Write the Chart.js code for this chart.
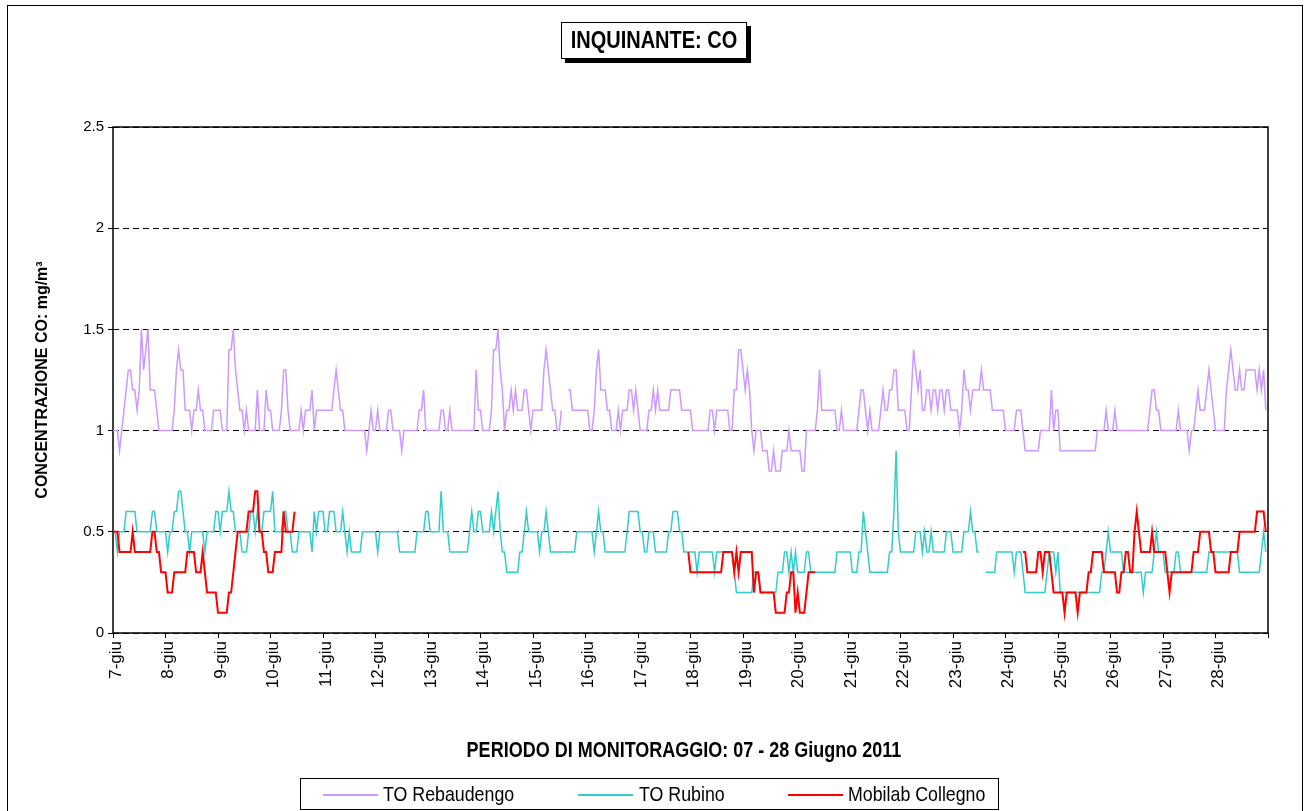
<!DOCTYPE html>
<html>
<head>
<meta charset="utf-8">
<script src="https://cdn.jsdelivr.net/npm/chart.js@4.4.1/dist/chart.umd.min.js"></script>
<style>
  body { margin: 0; background: #fff; font-family: Arial, "Liberation Sans", sans-serif; color: #000; }
  #wrap { position: relative; width: 1308px; height: 811px; overflow: hidden; background: #fff; }
  #frame { position: absolute; left: 7px; top: 5px; width: 1294px; height: 840px; border: 1px solid #000; }
  canvas { position: absolute; left: 0; top: 0; }
  #title { position: absolute; left: 561px; top: 22px; width: 184px; height: 35px; border: 1px solid #000;
           box-shadow: 4px 4px 0 #000; background: #fff; text-align: center; }
  #title span { display: inline-block; font-weight: bold; font-size: 20px; line-height: 35px; transform: scaleY(1.2); }
  #ytitle { position: absolute; left: 42px; top: 380px; transform: translate(-50%, -50%) rotate(-90deg);
            font-weight: bold; font-size: 16px; white-space: nowrap; }
  #xtitle { position: absolute; left: 684px; top: 740px; transform: translateX(-50%) scaleY(1.2);
            font-weight: bold; font-size: 18px; white-space: nowrap; }
  #legend { position: absolute; left: 300px; top: 778px; width: 697px; height: 30px; border: 1px solid #000; background: #fff; }
  .sw { position: absolute; top: 794px; height: 2px; width: 55px; }
  .lt { position: absolute; top: 784px; font-size: 17.8px; white-space: nowrap; transform: scaleY(1.12); }
</style>
</head>
<body>
<div id="wrap">
  <canvas id="chart" width="1308" height="811"></canvas>
  <div id="frame"></div>
  <div id="title"><span>INQUINANTE: CO</span></div>
  <div id="ytitle">CONCENTRAZIONE CO: mg/m³</div>
  <div id="xtitle">PERIODO DI MONITORAGGIO: 07 - 28 Giugno 2011</div>
  <div id="legend"></div>
  <div class="sw" style="left:323px;background:#CC99FF"></div>
  <div class="lt" style="left:383px">TO Rebaudengo</div>
  <div class="sw" style="left:578px;background:#33CCCC"></div>
  <div class="lt" style="left:639px">TO Rubino</div>
  <div class="sw" style="left:788px;background:#FF0000"></div>
  <div class="lt" style="left:848px">Mobilab Collegno</div>
</div>
<script>
// one label per day, the series are hourly (24 values per row)
const days = ['7-giu', '8-giu', '9-giu', '10-giu', '11-giu', '12-giu', '13-giu', '14-giu', '15-giu', '16-giu', '17-giu',
              '18-giu', '19-giu', '20-giu', '21-giu', '22-giu', '23-giu', '24-giu', '25-giu', '26-giu', '27-giu', '28-giu'];

const _ = null; // missing hour

const rebaudengo = [
  1.0,1.0,1.0,0.9,1.0,1.1,1.2,1.3,1.3,1.2,1.2,1.1,1.2,1.5,1.3,1.4,1.5,1.2,1.2,1.2,1.1,1.0,1.0,1.0,
  1.0,1.0,1.0,1.0,1.1,1.3,1.4,1.3,1.3,1.1,1.1,1.1,1.0,1.1,1.1,1.2,1.1,1.1,1.0,1.0,1.0,1.0,1.1,1.1,
  1.1,1.1,1.0,1.0,1.0,1.4,1.4,1.5,1.3,1.2,1.1,1.1,1.0,1.1,1.0,1.0,1.0,1.0,1.2,1.0,1.0,1.0,1.2,1.1,
  1.1,1.0,1.0,1.0,1.0,1.1,1.3,1.3,1.1,1.0,1.0,1.0,1.0,1.0,1.1,1.0,1.1,1.1,1.1,1.2,1.0,1.1,1.1,1.1,
  1.1,1.1,1.1,1.1,1.1,1.2,1.3,1.2,1.1,1.1,1.0,1.0,1.0,1.0,1.0,1.0,1.0,1.0,1.0,1.0,0.9,1.0,1.1,1.0,
  1.0,1.1,1.0,1.0,1.0,1.0,1.1,1.1,1.0,1.0,1.0,1.0,0.9,1.0,1.0,1.0,1.0,1.0,1.0,1.0,1.1,1.1,1.2,1.0,
  1.0,1.0,1.0,1.0,1.0,1.0,1.1,1.1,1.0,1.0,1.1,1.0,1.0,1.0,1.0,1.0,1.0,1.0,1.0,1.0,1.0,1.0,1.3,1.1,
  1.1,1.0,1.0,1.0,1.0,1.1,1.4,1.4,1.5,1.3,1.2,1.0,1.1,1.1,1.2,1.1,1.2,1.1,1.1,1.1,1.2,1.2,1.1,1.0,
  1.1,1.1,1.1,1.1,1.1,1.3,1.4,1.3,1.2,1.1,1.1,1.0,1.0,1.1,_,_,1.2,1.2,1.1,1.1,1.1,1.1,1.1,1.1,
  1.1,1.1,1.0,1.0,1.1,1.3,1.4,1.2,1.2,1.2,1.1,1.1,1.0,1.0,1.0,1.1,1.0,1.1,1.1,1.1,1.2,1.2,1.1,1.2,
  1.1,1.0,1.0,1.0,1.0,1.1,1.1,1.2,1.1,1.2,1.1,1.1,1.1,1.1,1.1,1.2,1.2,1.2,1.2,1.2,1.1,1.1,1.1,1.1,
  1.1,1.0,1.0,1.0,1.0,1.0,1.0,1.0,1.0,1.1,1.1,1.0,1.1,1.1,1.1,1.1,1.1,1.1,1.0,1.0,1.2,1.2,1.4,1.4,
  1.3,1.2,1.3,1.2,1.0,0.9,1.0,1.0,1.0,0.9,0.9,0.9,0.8,0.8,0.9,0.8,0.8,0.8,0.9,0.9,0.9,1.0,0.9,0.9,
  0.9,0.9,0.9,0.8,0.8,1.0,1.0,1.0,1.0,1.0,1.1,1.3,1.1,1.1,1.1,1.1,1.1,1.1,1.1,1.0,1.0,1.1,1.0,1.0,
  1.0,1.0,1.0,1.0,1.0,1.1,1.2,1.2,1.1,1.0,1.1,1.0,1.0,1.0,1.0,1.1,1.2,1.1,1.1,1.2,1.2,1.3,1.3,1.1,
  1.1,1.1,1.1,1.0,1.0,1.2,1.4,1.3,1.2,1.3,1.1,1.1,1.2,1.2,1.1,1.2,1.2,1.1,1.2,1.2,1.1,1.2,1.2,1.1,
  1.1,1.1,1.1,1.0,1.1,1.3,1.2,1.2,1.1,1.2,1.2,1.2,1.2,1.3,1.2,1.2,1.2,1.2,1.1,1.1,1.1,1.1,1.1,1.1,
  1.0,1.0,1.0,1.0,1.0,1.1,1.1,1.1,1.0,0.9,0.9,0.9,0.9,0.9,0.9,0.9,1.0,1.0,1.0,1.0,1.0,1.2,1.0,1.1,
  1.1,0.9,0.9,0.9,0.9,0.9,0.9,0.9,0.9,0.9,0.9,0.9,0.9,0.9,0.9,0.9,0.9,0.9,1.0,1.0,1.0,1.0,1.1,1.0,
  1.0,1.0,1.1,1.0,1.0,1.0,1.0,1.0,1.0,1.0,1.0,1.0,1.0,1.0,1.0,1.0,1.0,1.0,1.1,1.2,1.2,1.1,1.1,1.0,
  1.0,1.0,1.0,1.0,1.0,1.0,1.0,1.1,1.0,1.0,1.0,1.0,0.9,1.0,1.0,1.1,1.2,1.1,1.1,1.1,1.2,1.3,1.2,1.1,
  1.0,1.0,1.0,1.0,1.0,1.2,1.3,1.4,1.3,1.2,1.2,1.3,1.2,1.2,1.3,1.3,1.3,1.3,1.3,1.2,1.3,1.2,1.3,1.1
];

const rubino = [
  0.5,0.5,0.4,0.5,0.5,0.5,0.6,0.6,0.6,0.6,0.6,0.5,0.5,0.5,0.5,0.5,0.5,0.5,0.6,0.6,0.5,0.5,0.5,0.5,
  0.5,0.4,0.5,0.5,0.6,0.6,0.7,0.7,0.6,0.5,0.5,0.4,0.5,0.5,0.5,0.5,0.5,0.5,0.4,0.5,0.5,0.5,0.5,0.6,
  0.6,0.5,0.6,0.6,0.6,0.7,0.6,0.6,0.5,0.5,0.5,0.4,0.4,0.4,0.5,0.6,0.6,0.5,0.6,0.5,0.5,0.6,0.6,0.6,
  0.6,0.7,0.5,0.5,0.5,0.5,0.6,0.6,0.5,0.5,0.4,0.4,0.4,0.5,0.5,0.5,0.5,0.5,0.5,0.4,0.6,0.5,0.6,0.6,
  0.6,0.5,0.5,0.6,0.6,0.6,0.5,0.5,0.5,0.6,0.5,0.4,0.5,0.4,0.4,0.4,0.4,0.4,0.5,0.5,0.5,0.5,0.5,0.5,
  0.5,0.4,0.5,0.5,0.5,0.5,0.5,0.5,0.5,0.5,0.5,0.4,0.4,0.4,0.4,0.4,0.4,0.4,0.4,0.5,0.5,0.5,0.5,0.6,
  0.6,0.5,0.5,0.5,0.5,0.5,0.7,0.5,0.5,0.5,0.4,0.4,0.4,0.4,0.4,0.4,0.4,0.4,0.4,0.5,0.6,0.5,0.5,0.6,
  0.6,0.5,0.5,0.5,0.5,0.6,0.5,0.6,0.7,0.5,0.4,0.4,0.3,0.3,0.3,0.3,0.3,0.3,0.4,0.4,0.5,0.6,0.5,0.5,
  0.5,0.5,0.5,0.4,0.5,0.5,0.6,0.5,0.4,0.4,0.4,0.4,0.4,0.4,0.4,0.4,0.4,0.4,0.4,0.4,0.5,0.5,0.5,0.5,
  0.5,0.5,0.5,0.5,0.4,0.5,0.6,0.5,0.5,0.4,0.4,0.4,0.4,0.4,0.4,0.4,0.4,0.4,0.4,0.5,0.6,0.6,0.6,0.6,
  0.6,0.5,0.5,0.4,0.4,0.5,0.5,0.5,0.4,0.4,0.4,0.4,0.4,0.4,0.5,0.5,0.6,0.6,0.6,0.5,0.5,0.4,0.4,0.4,
  0.4,0.4,0.4,0.3,0.4,0.4,0.4,0.4,0.4,0.4,0.4,0.3,0.4,0.4,0.4,0.4,0.4,0.4,0.4,0.4,0.3,0.2,0.2,0.2,
  0.2,0.2,0.2,0.2,0.2,0.3,0.3,0.3,0.2,0.2,0.2,0.2,0.2,0.2,0.2,0.2,0.3,0.3,0.3,0.4,0.4,0.3,0.4,0.3,
  0.4,0.3,0.3,0.3,0.3,0.4,0.4,0.3,0.3,0.3,0.3,0.3,0.3,0.3,0.3,0.3,0.3,0.3,0.3,0.4,0.4,0.4,0.4,0.4,
  0.4,0.4,0.3,0.3,0.3,0.4,0.4,0.6,0.5,0.4,0.3,0.3,0.3,0.3,0.3,0.3,0.3,0.3,0.3,0.4,0.4,0.6,0.9,0.5,
  0.4,0.4,0.4,0.4,0.4,0.4,0.4,0.5,0.5,0.5,0.4,0.5,0.4,0.4,0.5,0.4,0.4,0.4,0.4,0.4,0.4,0.5,0.5,0.5,
  0.4,0.4,0.4,0.4,0.4,0.5,0.5,0.5,0.6,0.5,0.5,0.4,0.4,_,_,0.3,0.3,0.3,0.3,0.3,0.4,0.4,0.4,0.4,
  0.4,0.4,0.4,0.4,0.3,0.4,0.4,0.4,0.3,0.2,0.2,0.2,0.2,0.2,0.2,0.2,0.2,0.2,0.2,0.3,0.4,0.4,0.4,0.3,
  0.4,0.2,0.2,0.2,0.2,0.2,0.2,0.2,0.2,0.2,0.2,0.2,0.2,0.2,0.2,0.2,0.2,0.2,0.2,0.2,0.3,0.3,0.4,0.5,
  0.4,0.4,0.4,0.4,0.4,0.4,0.3,0.3,0.3,0.3,0.3,0.3,0.3,0.3,0.3,0.2,0.3,0.3,0.3,0.3,0.4,0.5,0.4,0.4,
  0.4,0.3,0.3,0.3,0.3,0.3,0.4,0.4,0.3,0.3,0.3,0.3,0.3,0.3,0.3,0.3,0.3,0.3,0.3,0.3,0.3,0.4,0.4,0.4,
  0.4,0.4,0.4,0.4,0.4,0.4,0.4,0.4,0.4,0.4,0.4,0.3,0.3,0.3,0.3,0.3,0.3,0.3,0.3,0.3,0.3,0.4,0.5,0.4
];

const collegno = [
  0.5,0.5,0.5,0.4,0.4,0.4,0.4,0.4,0.4,0.5,0.4,0.4,0.4,0.4,0.4,0.4,0.4,0.4,0.5,0.5,0.4,0.4,0.3,0.3,
  0.3,0.2,0.2,0.2,0.3,0.3,0.3,0.3,0.3,0.3,0.4,0.4,0.4,0.4,0.3,0.3,0.3,0.4,0.3,0.2,0.2,0.2,0.2,0.2,
  0.1,0.1,0.1,0.1,0.1,0.2,0.2,0.3,0.4,0.5,0.5,0.5,0.5,0.5,0.6,0.6,0.6,0.7,0.7,0.5,0.5,0.4,0.4,0.3,
  0.3,0.3,0.4,0.4,0.4,0.4,0.6,0.5,0.5,0.5,0.5,0.6,_,_,_,_,_,_,_,_,_,_,_,_,
  _,_,_,_,_,_,_,_,_,_,_,_,_,_,_,_,_,_,_,_,_,_,_,_,
  _,_,_,_,_,_,_,_,_,_,_,_,_,_,_,_,_,_,_,_,_,_,_,_,
  _,_,_,_,_,_,_,_,_,_,_,_,_,_,_,_,_,_,_,_,_,_,_,_,
  _,_,_,_,_,_,_,_,_,_,_,_,_,_,_,_,_,_,_,_,_,_,_,_,
  _,_,_,_,_,_,_,_,_,_,_,_,_,_,_,_,_,_,_,_,_,_,_,_,
  _,_,_,_,_,_,_,_,_,_,_,_,_,_,_,_,_,_,_,_,_,_,_,_,
  _,_,_,_,_,_,_,_,_,_,_,_,_,_,_,_,_,_,_,_,_,_,_,0.4,
  0.3,0.3,0.3,0.3,0.3,0.3,0.3,0.3,0.3,0.3,0.3,0.3,0.3,0.3,0.3,0.4,0.4,0.4,0.4,0.4,0.3,0.4,0.3,0.4,
  0.4,0.4,0.4,0.4,0.4,0.2,0.3,0.3,0.2,0.2,0.2,0.2,0.2,0.2,0.2,0.1,0.1,0.1,0.1,0.1,0.2,0.2,0.3,0.3,
  0.1,0.2,0.1,0.1,0.1,0.2,0.3,0.3,0.3,0.3,_,_,_,_,_,_,_,_,_,_,_,_,_,_,
  _,_,_,_,_,_,_,_,_,_,_,_,_,_,_,_,_,_,_,_,_,_,_,_,
  _,_,_,_,_,_,_,_,_,_,_,_,_,_,_,_,_,_,_,_,_,_,_,_,
  _,_,_,_,_,_,_,_,_,_,_,_,_,_,_,_,_,_,_,_,_,_,_,_,
  _,_,_,_,_,_,_,_,0.4,0.4,0.3,0.3,0.3,0.3,0.3,0.4,0.4,0.3,0.4,0.4,0.4,0.3,0.2,0.2,
  0.2,0.2,0.2,0.1,0.2,0.2,0.2,0.2,0.2,0.1,0.2,0.2,0.2,0.2,0.3,0.3,0.4,0.4,0.4,0.4,0.4,0.3,0.3,0.3,
  0.3,0.3,0.3,0.2,0.2,0.3,0.3,0.4,0.4,0.3,0.3,0.5,0.6,0.5,0.4,0.4,0.4,0.4,0.4,0.5,0.4,0.4,0.4,0.4,
  0.4,0.4,0.3,0.2,0.3,0.3,0.3,0.3,0.3,0.3,0.3,0.3,0.3,0.3,0.4,0.4,0.4,0.5,0.5,0.5,0.5,0.5,0.4,0.4,
  0.3,0.3,0.3,0.3,0.3,0.3,0.3,0.4,0.4,0.4,0.4,0.5,0.5,0.5,0.5,0.5,0.5,0.5,0.5,0.6,0.6,0.6,0.6,0.5
];

// hour index of every reading, used as x value
const hours = rebaudengo.map((v, i) => i);

// black box around the plot area
const plotFrame = {
    id: 'plotFrame',
    beforeDatasetsDraw(chart) {
        const { ctx, chartArea: a } = chart;
        ctx.save();
        ctx.strokeStyle = '#000';
        ctx.lineWidth = 1.5;
        ctx.strokeRect(a.left, a.top, a.right - a.left, a.bottom - a.top);
        ctx.restore();
    }
};

Chart.defaults.font.family = 'Arial, "Liberation Sans", sans-serif';
Chart.defaults.color = '#000';

new Chart(document.getElementById('chart'), {
    type: 'line',
    data: {
        labels: hours,
        datasets: [
            { label: 'TO Rebaudengo', data: rebaudengo, borderColor: '#CC99FF', borderWidth: 1.5, order: 2 },
            { label: 'TO Rubino', data: rubino, borderColor: '#33CCCC', borderWidth: 1.5, order: 1 },
            { label: 'Mobilab Collegno', data: collegno, borderColor: '#FF0000', borderWidth: 2, order: 0 }
        ]
    },
    options: {
        responsive: false,
        animation: false,
        spanGaps: false,
        layout: { padding: { top: 127, right: 40, bottom: 0, left: 0 } },
        elements: { point: { radius: 0 }, line: { tension: 0 } },
        plugins: { legend: { display: false }, tooltip: { enabled: false } },
        scales: {
            x: {
                type: 'linear',
                min: 0,
                max: 528,
                afterFit: (s) => { s.height = 178; },
                ticks: {
                    stepSize: 24,
                    autoSkip: false,
                    minRotation: 90,
                    maxRotation: 90,
                    padding: 3,
                    labelOffset: 3,
                    font: { size: 17 },
                    callback: (v) => days[v / 24] || ''
                },
                grid: { drawOnChartArea: false, tickLength: 5, color: '#000' },
                border: { display: false }
            },
            y: {
                min: 0,
                max: 2.5,
                afterFit: (s) => { s.width = 113; },
                ticks: { stepSize: 0.5, padding: 4, font: { size: 15 }, callback: (v) => String(v) },
                grid: { color: '#000', lineWidth: 1, tickLength: 5 },
                border: { display: false, dash: [6, 4] }
            }
        }
    },
    plugins: [plotFrame]
});
</script>
</body>
</html>
